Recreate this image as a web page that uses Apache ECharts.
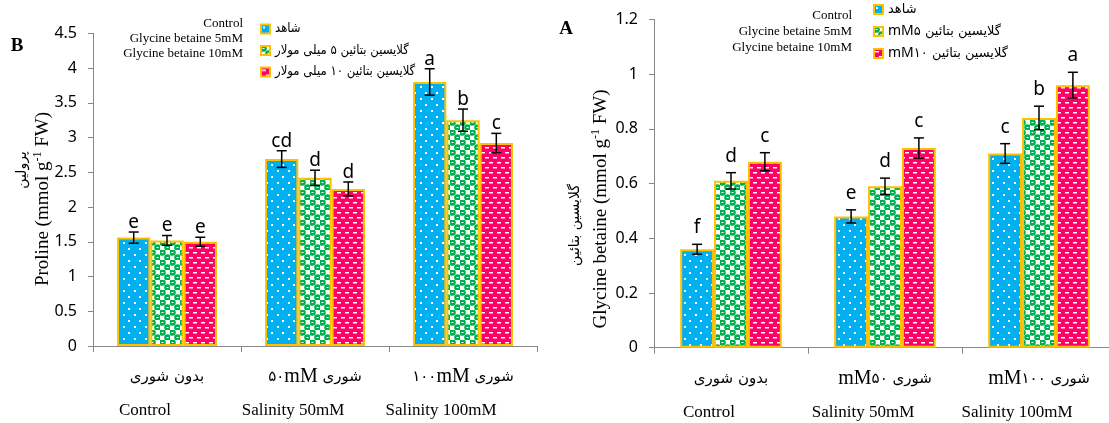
<!DOCTYPE html>
<html><head><meta charset="utf-8">
<script src="https://cdn.jsdelivr.net/npm/echarts@6/dist/echarts.min.js"></script>
<style>html,body{margin:0;padding:0;background:#fff;overflow:hidden;width:1109px;height:423px}#c{width:1140px;height:423px}</style>
</head><body><div id="c"></div>
<script>
// ---------- DATA ----------
const categoriesEn = ['Control', 'Salinity 50mM', 'Salinity 100mM'];
const leftCatFa = ['بدون شوری', '۵۰mM شوری', '۱۰۰mM شوری'];
const rightCatFa = ['بدون شوری', 'mM۵۰ شوری', 'mM۱۰۰ شوری'];

const leftSeriesNames = ['شاهد', 'گلایسین بتائین ۵ میلی مولار', 'گلایسین بتائین ۱۰ میلی مولار'];
const rightSeriesNames = ['شاهد ', 'mM۵ گلایسین بتائین', 'mM۱۰ گلایسین بتائین'];
const legendEn = ['Control', 'Glycine betaine 5mM', 'Glycine betaine 10mM'];

// Proline (B)
const prolineGB0 = [1.56, 2.69, 3.80];
const prolineGB5 = [1.52, 2.42, 3.25];
const prolineGB10 = [1.50, 2.26, 2.92];
const prolineErr0 = [0.08, 0.12, 0.19];
const prolineErr5 = [0.07, 0.11, 0.16];
const prolineErr10 = [0.065, 0.10, 0.14];
const prolineLet0 = ['e', 'cd', 'a'];
const prolineLet5 = ['e', 'd', 'b'];
const prolineLet10 = ['e', 'd', 'c'];

// Glycine betaine (A)
const gbGB0 = [0.36, 0.48, 0.71];
const gbGB5 = [0.61, 0.59, 0.84];
const gbGB10 = [0.68, 0.73, 0.96];
const gbErr0 = [0.018, 0.024, 0.036];
const gbErr5 = [0.03, 0.03, 0.043];
const gbErr10 = [0.033, 0.037, 0.047];
const gbLet0 = ['f', 'e', 'c'];
const gbLet5 = ['d', 'd', 'b'];
const gbLet10 = ['c', 'c', 'a'];

// ---------- PATTERNS ----------
function pat(kind) {
  const c = document.createElement('canvas');
  const g = c.getContext('2d');
  if (kind === 0) {
    c.width = 11; c.height = 12;
    g.fillStyle = '#00B0F0'; g.fillRect(0, 0, 11, 12);
    g.fillStyle = '#ffffff';
    g.fillRect(2, 2, 2, 2); g.fillRect(7, 8, 2, 2);
  } else if (kind === 1) {
    c.width = 10; c.height = 10;
    g.fillStyle = '#ffffff'; g.fillRect(0, 0, 10, 10);
    g.fillStyle = '#00B050';
    g.fillRect(0, 0, 5, 5); g.fillRect(5, 5, 5, 5);
    g.beginPath(); g.arc(2.5, 2.5, 3.3, 0, Math.PI * 2); g.fill();
    g.beginPath(); g.arc(7.5, 7.5, 3.3, 0, Math.PI * 2); g.fill();
    g.fillStyle = '#ffffff';
    g.fillRect(1.5, 2, 2, 1); g.fillRect(6.5, 7, 2, 1);
  } else {
    c.width = 8; c.height = 10;
    g.fillStyle = '#FF0066'; g.fillRect(0, 0, 8, 10);
    g.fillStyle = '#ffffff';
    g.fillRect(1, 2, 4, 1.5); g.fillRect(5, 7, 3, 1.5); g.fillRect(0, 7, 1, 1.5);
  }
  return { image: c, repeat: 'repeat' };
}
const patterns = [pat(0), pat(1), pat(2)];

// ---------- HELPERS ----------
function faRich(s) {
  return s.trim().split(/(mM|[۰-۹]+)/).filter(x => x.length).map(p => {
    if (p === 'mM') return '{mm|' + p + '}';
    if (/^[۰-۹]+$/.test(p)) return '{dg|' + p + '}';
    return '{fa|' + p + '}';
  }).join('');
}
const axisRich = {
  fa: { fontFamily: 'DejaVu Sans', fontSize: 15, color: '#000', lineHeight: 34 },
  dg: { fontFamily: 'DejaVu Sans', fontSize: 15, color: '#000', lineHeight: 34 },
  mm: { fontFamily: 'Liberation Serif', fontSize: 20, color: '#000', lineHeight: 34 },
  e: { fontFamily: 'Liberation Serif', fontSize: 17, color: '#000', lineHeight: 34, padding: [0, 44, 0, 0] }
};
const legendRich = {
  fa: { fontFamily: 'DejaVu Sans', fontSize: 13, color: '#000' },
  dg: { fontFamily: 'DejaVu Sans', fontSize: 13, color: '#000' },
  mm: { fontFamily: 'Noto Sans', fontSize: 14, color: '#000' }
};

function errSeries(name, gi, idx, vals, errs, lets, gap, letOff) {
  return {
    type: 'custom', name: name + '_err', xAxisIndex: gi, yAxisIndex: gi, z: 10,
    data: vals.map((v, i) => [i, v, errs[i]]),
    encode: { x: 0, y: 1 },
    renderItem: function (params, api) {
      const cat = api.value(0), v = api.value(1), e = api.value(2);
      const band = api.size([1, 0])[0];
      const bw = band * (1 - gap) / 3;
      const c = api.coord([cat, v]);
      const x = c[0] + (idx - 1) * bw;
      const yt = api.coord([cat, v + e])[1];
      const yb = api.coord([cat, v - e])[1];
      const st = { stroke: '#000', lineWidth: 1.5 };
      return {
        type: 'group', children: [
          { type: 'line', shape: { x1: x, y1: yt, x2: x, y2: yb }, style: st },
          { type: 'line', shape: { x1: x - 5, y1: yt, x2: x + 5, y2: yt }, style: st },
          { type: 'line', shape: { x1: x - 5, y1: yb, x2: x + 5, y2: yb }, style: st },
          { type: 'text', x: x, y: yt - letOff, style: { text: lets[params.dataIndex], fontFamily: 'Noto Sans', fontSize: 19, fill: '#000', align: 'center', verticalAlign: 'bottom' } }
        ]
      };
    }
  };
}

function barSeries(name, gi, idx, vals, gap) {
  return {
    type: 'bar', name: name, xAxisIndex: gi, yAxisIndex: gi,
    data: vals, barGap: '0%', barCategoryGap: (gap * 100) + '%',
    itemStyle: { color: patterns[idx], borderColor: '#FFC000', borderWidth: 2 },
    emphasis: { disabled: true }
  };
}

const gapL = 0.325, gapR = 0.34;
const chart = echarts.init(document.getElementById('c'), null, { renderer: 'canvas' });

const axisLineStyle = { color: '#888888', width: 1 };
function xAxis(gi, fa) {
  return {
    type: 'category', gridIndex: gi, data: categoriesEn,
    axisLine: { lineStyle: axisLineStyle },
    axisTick: { show: true, length: 6, lineStyle: axisLineStyle },
    axisLabel: {
      interval: 0, margin: 14, color: '#000',
      formatter: function (v, i) { return faRich(fa[i]) + '\n{e|' + v + '}'; },
      rich: axisRich
    }
  };
}
function yAxis(gi, max, interval) {
  return {
    type: 'value', gridIndex: gi, min: 0, max: max, interval: interval,
    axisLine: { show: true, lineStyle: axisLineStyle },
    axisTick: { show: true, length: 5, lineStyle: axisLineStyle },
    splitLine: { show: false },
    axisLabel: { margin: 16, color: '#000', fontFamily: 'Noto Sans', fontSize: 16 }
  };
}
function engText(x, y, t) {
  return { type: 'text', x: x, y: y, style: { text: t, fontFamily: 'Liberation Serif', fontSize: 13, fill: '#000', align: 'right', verticalAlign: 'middle' } };
}
const nameRich = {
  a: { fontFamily: 'Liberation Serif', fontSize: 19, fill: '#000', lineHeight: 22 },
  s: { fontFamily: 'Liberation Serif', fontSize: 12, fill: '#000', verticalAlign: 'top', lineHeight: 22 }
};

const option = {
  animation: false,
  backgroundColor: '#ffffff',
  grid: [
    { left: 93, width: 444, top: 33.3, bottom: 77 },
    { left: 654, width: 462, top: 19.5, bottom: 75.3 }
  ],
  xAxis: [xAxis(0, leftCatFa), xAxis(1, rightCatFa)],
  yAxis: [yAxis(0, 4.5, 0.5), yAxis(1, 1.2, 0.2)],
  legend: [
    {
      data: leftSeriesNames, orient: 'vertical', left: 260, top: 21, itemGap: 5.5, padding: 0,
      icon: 'rect', itemWidth: 9, itemHeight: 9, selectedMode: false,
      textStyle: { lineHeight: 16, fontFamily: 'DejaVu Sans Condensed', fontSize: 13, color: '#000' }
    },
    {
      data: rightSeriesNames, orient: 'vertical', left: 873, top: 1.5, itemGap: 6, padding: 0,
      icon: 'rect', itemWidth: 9, itemHeight: 9, selectedMode: false,
      formatter: function (n) { return faRich(n); },
      textStyle: { lineHeight: 16, rich: legendRich }
    }
  ],
  graphic: [
    { type: 'text', x: 17, y: 46, style: { text: 'B', fontFamily: 'Liberation Serif', fontWeight: 'bold', fontSize: 19, fill: '#000', align: 'center', verticalAlign: 'middle' } },
    { type: 'text', x: 566, y: 29, style: { text: 'A', fontFamily: 'Liberation Serif', fontWeight: 'bold', fontSize: 19, fill: '#000', align: 'center', verticalAlign: 'middle' } },
    engText(243, 24, legendEn[0]), engText(243, 39, legendEn[1]), engText(243, 54, legendEn[2]),
    engText(852, 16, legendEn[0]), engText(852, 32, legendEn[1]), engText(852, 48, legendEn[2]),
    { type: 'text', x: 43, y: 199, rotation: Math.PI / 2, style: {
        text: '{a|Proline (mmol g}{s|-1}{a| FW)}', align: 'center', verticalAlign: 'middle', rich: nameRich } },
    { type: 'text', x: 22, y: 170, rotation: Math.PI / 2, style: { text: 'پرولین', fontFamily: 'DejaVu Sans', fontSize: 14, fill: '#000', align: 'center', verticalAlign: 'middle' } },
    { type: 'text', x: 601, y: 209, rotation: Math.PI / 2, style: {
        text: '{a|Glycine betaine (mmol g}{s|-1}{a| FW)}', align: 'center', verticalAlign: 'middle', rich: nameRich } },
    { type: 'text', x: 575, y: 225, rotation: Math.PI / 2, style: { text: 'گلایسین بتائین', fontFamily: 'DejaVu Sans', fontSize: 14, fill: '#000', align: 'center', verticalAlign: 'middle' } }
  ],
  series: [
    barSeries(leftSeriesNames[0], 0, 0, prolineGB0, gapL),
    barSeries(leftSeriesNames[1], 0, 1, prolineGB5, gapL),
    barSeries(leftSeriesNames[2], 0, 2, prolineGB10, gapL),
    barSeries(rightSeriesNames[0], 1, 0, gbGB0, gapR),
    barSeries(rightSeriesNames[1], 1, 1, gbGB5, gapR),
    barSeries(rightSeriesNames[2], 1, 2, gbGB10, gapR),
    errSeries('p0', 0, 0, prolineGB0, prolineErr0, prolineLet0, gapL, 0),
    errSeries('p1', 0, 1, prolineGB5, prolineErr5, prolineLet5, gapL, 0),
    errSeries('p2', 0, 2, prolineGB10, prolineErr10, prolineLet10, gapL, 0),
    errSeries('g0', 1, 0, gbGB0, gbErr0, gbLet0, gapR, 7),
    errSeries('g1', 1, 1, gbGB5, gbErr5, gbLet5, gapR, 7),
    errSeries('g2', 1, 2, gbGB10, gbErr10, gbLet10, gapR, 7)
  ]
};
chart.setOption(option);
</script>
</body></html>
